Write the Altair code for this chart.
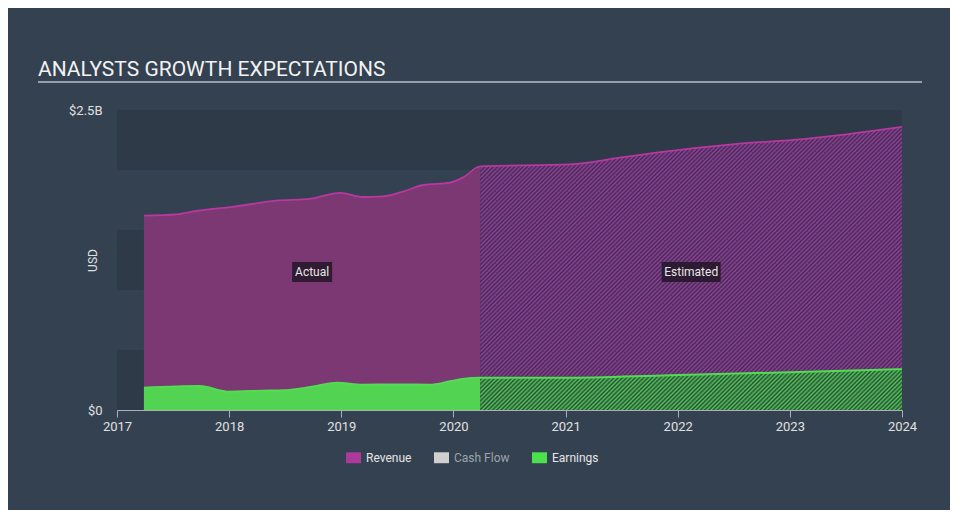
import math
import altair as alt
import pandas as pd

# ---------------- data (USD billions) ----------------
rev_act_year = [2017.24, 2017.53, 2017.71, 2018.01, 2018.42, 2018.72, 2018.99,
                2019.19, 2019.37, 2019.55, 2019.73, 2019.97, 2020.09, 2020.24]
rev_act = [1.62, 1.63, 1.66, 1.69, 1.745, 1.76, 1.81,
           1.775, 1.78, 1.82, 1.875, 1.895, 1.94, 2.03]

rev_est_year = [2020.24, 2021.04, 2021.5, 2021.81, 2022.53, 2023.12, 2024.0]
rev_est = [2.03, 2.047, 2.105, 2.144, 2.217, 2.258, 2.36]

earn_act_year = [2017.24, 2017.74, 2017.98, 2018.3, 2018.54, 2018.78, 2018.96,
                 2019.19, 2019.5, 2019.79, 2019.97, 2020.08, 2020.24]
earn_act = [0.186, 0.2, 0.153, 0.161, 0.167, 0.2, 0.228,
            0.211, 0.212, 0.211, 0.239, 0.258, 0.269]

earn_est_year = [2020.24, 2021.0, 2021.93, 2023.0, 2024.0]
earn_est = [0.269, 0.268, 0.29, 0.315, 0.34]

x_ticks = [2017, 2018, 2019, 2020, 2021, 2022, 2023, 2024]
y_ticks = [0, 2.5]
band_lo = [0.0, 1.0, 2.0]
band_hi = [0.5, 1.5, 2.5]

legend_names = ["Revenue", "Cash Flow", "Earnings"]
legend_colors = ["#ab3a9b", "#cfcfcf", "#4de04d"]

lab_text = ["Actual", "Estimated"]
lab_year = [2018.74, 2022.12]
lab_value = [1.15, 1.15]

title_text = "ANALYSTS GROWTH EXPECTATIONS"

# ---------------- layout constants ----------------
W, H = 785, 300
X_DOM = [2017, 2024]
Y_DOM = [0, 2.5]
BG = "#344150"


def hatch(light, dark, years, vals, period=3.0):
    """Diagonal stripe fill built as a smooth (triangle-wave) linear gradient."""
    w_px = W * (max(years) - min(years)) / (X_DOM[1] - X_DOM[0])
    h_px = H * max(vals) / Y_DOM[1]
    tot = w_px + h_px
    k = tot / (w_px ** 2 + h_px ** 2)
    s2 = math.sqrt(2)
    stops = []
    d = 0.0
    i = 0
    while True:
        t = s2 * d / tot
        if t > 1:
            break
        stops.append((t, light if i % 2 == 0 else dark))
        d += period / 2.0
        i += 1
    return alt.LinearGradient(
        gradient="linear", x1=0, y1=0, x2=round(w_px * k, 5), y2=round(h_px * k, 5),
        stops=[alt.GradientStop(offset=round(o, 5), color=c) for o, c in stops])


def df(years, vals):
    return pd.DataFrame({"year": years, "value": vals})


X_AX = alt.Axis(values=x_ticks, format="d", tickSize=7, tickColor="#aab0b8",
                domainColor="#aab0b8", labelColor="#e0e0e0", labelFontSize=13,
                labelPadding=3, grid=False, title=None, labelFlush=False)
Y_AX = alt.Axis(values=y_ticks,
                labelExpr="datum.value == 0 ? '$0' : '$' + datum.value + 'B'",
                ticks=False, domain=False, grid=False, labelPadding=15,
                labelColor="#e0e0e0", labelFontSize=13,
                title="USD", titleX=-25, titleY=150, titleAngle=-90,
                titleBaseline="middle", titleAlign="center",
                titleColor="#e0e0e0", titleFontSize=12, titleFontWeight="normal")

XE = alt.X("year:Q", scale=alt.Scale(domain=X_DOM, nice=False, zero=False), axis=X_AX)
YE = alt.Y("value:Q", scale=alt.Scale(domain=Y_DOM, nice=False), axis=Y_AX)

bands = alt.Chart(pd.DataFrame({"value": band_lo, "hi": band_hi})).mark_rect(
    color="#2e3a48").encode(
    x=alt.value(0), x2=alt.value(W), y=YE, y2="hi:Q")

rev_act_area = alt.Chart(df(rev_act_year, rev_act)).mark_area(
    color="#7b3873", interpolate="monotone").encode(x=XE, y=YE)
rev_est_area = alt.Chart(df(rev_est_year, rev_est)).mark_area(
    fill=hatch("#94409a", "#3f2c50", rev_est_year, rev_est),
    interpolate="monotone").encode(x=XE, y=YE)
earn_act_area = alt.Chart(df(earn_act_year, earn_act)).mark_area(
    color="#52d452", interpolate="monotone").encode(x=XE, y=YE)
earn_est_area = alt.Chart(df(earn_est_year, earn_est)).mark_area(
    fill=hatch("#50c850", "#2c4a40", earn_est_year, earn_est),
    interpolate="monotone").encode(x=XE, y=YE)

rev_line = alt.Chart(df(rev_act_year + rev_est_year[1:], rev_act + rev_est[1:])).mark_line(
    color="#b8389f", strokeWidth=1.8, interpolate="monotone").encode(x=XE, y=YE)
earn_line = alt.Chart(df(earn_act_year + earn_est_year[1:], earn_act + earn_est[1:])).mark_line(
    color="#52dc52", strokeWidth=2, interpolate="monotone").encode(x=XE, y=YE)

lab_df = pd.DataFrame({"label": lab_text, "year": lab_year, "value": lab_value})
box_a = alt.Chart(lab_df).transform_filter("datum.label == 'Actual'").mark_point(
    shape="M-2,-1H2V1H-2Z", size=400, filled=True, fill="#1e1422", fillOpacity=0.8,
    strokeWidth=0).encode(x=XE, y=YE)
box_e = alt.Chart(lab_df).transform_filter("datum.label == 'Estimated'").mark_point(
    shape="M-2.95,-1H2.95V1H-2.95Z", size=400, filled=True, fill="#1e1422", fillOpacity=0.8,
    strokeWidth=0).encode(x=XE, y=YE)
lab_txt = alt.Chart(lab_df).mark_text(
    fontSize=12, color="#e8e8e8", align="center", baseline="middle").encode(
    x=XE, y=YE, text="label:N")

legend_layer = alt.Chart(pd.DataFrame({"series": legend_names})).mark_point(
    filled=True, opacity=0, size=1).encode(
    color=alt.Color("series:N",
                    scale=alt.Scale(domain=legend_names, range=legend_colors),
                    legend=alt.Legend(
                        title=None, orient="none", direction="horizontal", columns=3,
                        legendX=229, legendY=340,
                        symbolType="M-1,-0.73H1V0.73H-1Z", symbolSize=225,
                        symbolOpacity=1, symbolStrokeWidth=0,
                        labelFontSize=12, labelOffset=5, columnPadding=22,
                        labelColor={"expr": "datum.label == 'Cash Flow' ? '#9da3ab' : '#e6e6e6'"})))

title_layer = alt.Chart(pd.DataFrame({"t": [title_text]})).mark_text(
    fontSize=21, color="#f2f2f2", align="left", baseline="alphabetic").encode(
    text="t:N", x=alt.value(-79), y=alt.value(-34))
underline = alt.Chart(pd.DataFrame({"k": [0]})).mark_rule(
    color="#b8bec6", strokeWidth=1.5).encode(
    x=alt.value(-79), x2=alt.value(805), y=alt.value(-28))

chart = alt.layer(
    bands, rev_act_area, rev_est_area, earn_act_area, earn_est_area,
    rev_line, earn_line, box_a, box_e, lab_txt, legend_layer, title_layer, underline
).properties(
    width=W, height=H,
    autosize=alt.AutoSizeParams(type="none"),
    padding={"left": 109, "top": 102, "right": 48, "bottom": 100},
    background=BG,
).configure(font="Roboto").configure_view(strokeWidth=0)

chart.save("out.html", embed_options={"renderer": "svg", "actions": False})
